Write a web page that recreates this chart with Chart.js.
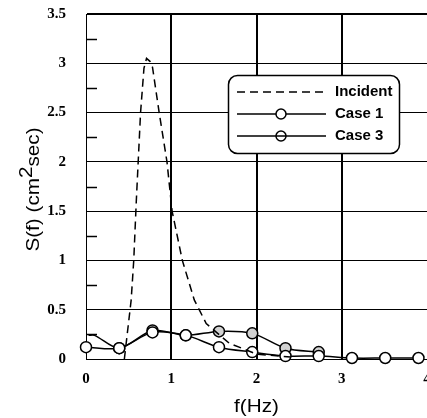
<!DOCTYPE html>
<html>
<head>
<meta charset="utf-8">
<script src="https://cdn.jsdelivr.net/npm/chart.js@4.4.0/dist/chart.umd.min.js"></script>
<style>
body { margin: 0; background: #fff; }
</style>
</head>
<body>
<canvas id="myChart" width="427" height="418"></canvas>
<script>
// values
const incidentF = [0.45, 0.53, 0.56, 0.59, 0.64, 0.68, 0.71, 0.75, 0.78, 0.86, 0.95, 1.01, 1.13, 1.27, 1.41, 1.68, 2.0, 2.4];
const incidentS = [0, 0.6, 1.0, 1.6, 2.5, 2.95, 3.05, 3.02, 2.96, 2.49, 2.0, 1.5, 1.0, 0.6, 0.36, 0.16, 0.05, 0.02];
const case1F = [0, 0.39, 0.78, 1.17, 1.56, 1.95, 2.34, 2.73, 3.12, 3.51, 3.9];
const case1S = [0.12, 0.11, 0.27, 0.24, 0.12, 0.07, 0.03, 0.03, 0.01, 0.01, 0.01];
const case3F = [0.03, 0.1, 0.39, 0.78, 1.17, 1.56, 1.95, 2.34, 2.73];
const case3S = [0.24, 0.24, 0.11, 0.29, 0.24, 0.28, 0.26, 0.11, 0.07];
const xTicks = [0, 1, 2, 3, 4];
const yTicks = [0, 0.5, 1, 1.5, 2, 2.5, 3, 3.5];
const yMinor = [0.25, 0.75, 1.25, 1.75, 2.25, 2.75, 3.25];

function toPoints(xs, ys) {
    return xs.map((x, i) => ({ x: x, y: ys[i] }));
}

const tickFont = { family: '"Liberation Serif", "Times New Roman", serif', size: 15, weight: 'bold' };

// short inner tick marks on the left axis
const minorTicks = {
    id: 'minorTicks',
    beforeDatasetsDraw(chart) {
        const ctx = chart.ctx;
        const y = chart.scales.y;
        const left = chart.chartArea.left;
        ctx.save();
        ctx.strokeStyle = '#000';
        ctx.lineWidth = 1.5;
        yMinor.forEach(v => {
            const py = Math.round(y.getPixelForValue(v)) + 0.5;
            ctx.beginPath();
            ctx.moveTo(left, py);
            ctx.lineTo(left + 11, py);
            ctx.stroke();
        });
        ctx.restore();
    }
};

const axisTitles = {
    id: 'axisTitles',
    afterDraw(chart) {
        const ctx = chart.ctx;
        const a = chart.chartArea;
        ctx.save();
        ctx.fillStyle = '#000';
        ctx.font = '18px "Liberation Sans", Arial, sans-serif';
        ctx.textAlign = 'center';
        ctx.textBaseline = 'alphabetic';
        ctx.translate((a.left + a.right) / 2, 412);
        ctx.scale(1.15, 1);
        ctx.fillText('f(Hz)', 0, 0);
        ctx.restore();

        ctx.save();
        ctx.fillStyle = '#000';
        ctx.font = '18px "Liberation Sans", Arial, sans-serif';
        ctx.textAlign = 'left';
        ctx.textBaseline = 'alphabetic';
        ctx.translate(39, (a.top + a.bottom) / 2 + 3);
        ctx.rotate(-Math.PI / 2);
        ctx.scale(1.15, 1);
        const p1 = 'S(f) (cm', p2 = '2', p3 = 'sec)';
        const w1 = ctx.measureText(p1).width;
        const w2 = ctx.measureText(p2).width;
        const w3 = ctx.measureText(p3).width;
        let x = -(w1 + w2 + w3) / 2;
        ctx.fillText(p1, x, 0); x += w1;
        ctx.fillText(p2, x, -7); x += w2;
        ctx.fillText(p3, x, 0);
        ctx.restore();
    }
};

function roundBox(ctx, x, y, w, h, r) {
    ctx.beginPath();
    ctx.moveTo(x + r, y);
    ctx.arcTo(x + w, y, x + w, y + h, r);
    ctx.arcTo(x + w, y + h, x, y + h, r);
    ctx.arcTo(x, y + h, x, y, r);
    ctx.arcTo(x, y, x + w, y, r);
    ctx.closePath();
}

const legendBox = {
    id: 'legendBox',
    afterDraw(chart) {
        const ctx = chart.ctx;
        ctx.save();
        roundBox(ctx, 228.5, 75.5, 171, 78, 9);
        ctx.fillStyle = '#fff';
        ctx.fill();
        ctx.strokeStyle = '#000';
        ctx.lineWidth = 1.5;
        ctx.stroke();

        const rows = [92, 114, 136];
        chart.data.datasets.forEach((ds, i) => {
            const y = rows[i];
            ctx.strokeStyle = '#000';
            ctx.lineWidth = 1.5;
            ctx.setLineDash(ds.borderDash || []);
            ctx.beginPath();
            ctx.moveTo(237, y);
            ctx.lineTo(326, y);
            ctx.stroke();
            ctx.setLineDash([]);
            if (ds.label !== 'Incident') {
                ctx.beginPath();
                ctx.arc(281, y, 5, 0, Math.PI * 2);
                if (ds.label === 'Case 1') {
                    ctx.fillStyle = '#fff';
                    ctx.fill();
                }
                ctx.stroke();
            }
            ctx.fillStyle = '#000';
            ctx.font = 'bold 15px "Liberation Sans", Arial, sans-serif';
            ctx.textBaseline = 'middle';
            ctx.fillText(ds.label, 335, y);
        });
        ctx.restore();
    }
};

new Chart('myChart', {
    type: 'line',
    data: {
        datasets: [{
            label: 'Incident',
            data: toPoints(incidentF, incidentS),
            borderColor: '#000',
            borderWidth: 1.5,
            borderDash: [8, 5],
            pointRadius: 0,
            tension: 0,
            clip: false
        }, {
            label: 'Case 1',
            data: toPoints(case1F, case1S),
            borderColor: '#000',
            borderWidth: 1.5,
            pointRadius: 5.5,
            pointBorderWidth: 1.5,
            pointBackgroundColor: '#fff',
            pointBorderColor: '#000',
            tension: 0.3,
            clip: false
        }, {
            label: 'Case 3',
            data: toPoints(case3F, case3S),
            borderColor: '#000',
            borderWidth: 1.5,
            pointRadius: [0, 0, 5.5, 5.5, 5.5, 5.5, 5.5, 5.5, 5.5],
            pointBorderWidth: 1.5,
            pointBackgroundColor: '#d2d2d2',
            pointBorderColor: '#000',
            tension: 0.3,
            clip: false
        }]
    },
    options: {
        responsive: false,
        animation: false,
        events: [],
        layout: { autoPadding: false, padding: { top: 14, right: 0, left: 0, bottom: 0 } },
        plugins: {
            legend: { display: false },
            tooltip: { enabled: false }
        },
        scales: {
            x: {
                type: 'linear',
                min: 0,
                max: 4,
                afterBuildTicks: s => { s.ticks = xTicks.map(v => ({ value: v })); },
                afterFit: s => { s.height = 59; s.paddingLeft = 0; s.paddingRight = 0; },
                ticks: { font: tickFont, color: '#000', padding: 11, maxRotation: 0, callback: v => String(v) },
                grid: {
                    color: '#000',
                    lineWidth: c => (c.tick && c.tick.value > 0 && c.tick.value < 4 ? 2 : 0),
                    drawTicks: false
                },
                border: { color: '#000', width: 1 }
            },
            y: {
                min: 0,
                max: 3.5,
                afterBuildTicks: s => { s.ticks = yTicks.map(v => ({ value: v })); },
                afterFit: s => { s.width = 86; s.paddingTop = 0; s.paddingBottom = 0; },
                ticks: { font: tickFont, color: '#000', padding: 20, callback: v => String(v) },
                grid: {
                    color: '#000',
                    lineWidth: c => (c.tick && c.tick.value === 0 ? 0 : (c.tick && c.tick.value === 3.5 ? 2 : 1)),
                    drawTicks: false
                },
                border: { color: '#000', width: 1 }
            }
        }
    },
    plugins: [minorTicks, axisTitles, legendBox]
});
</script>
</body>
</html>
